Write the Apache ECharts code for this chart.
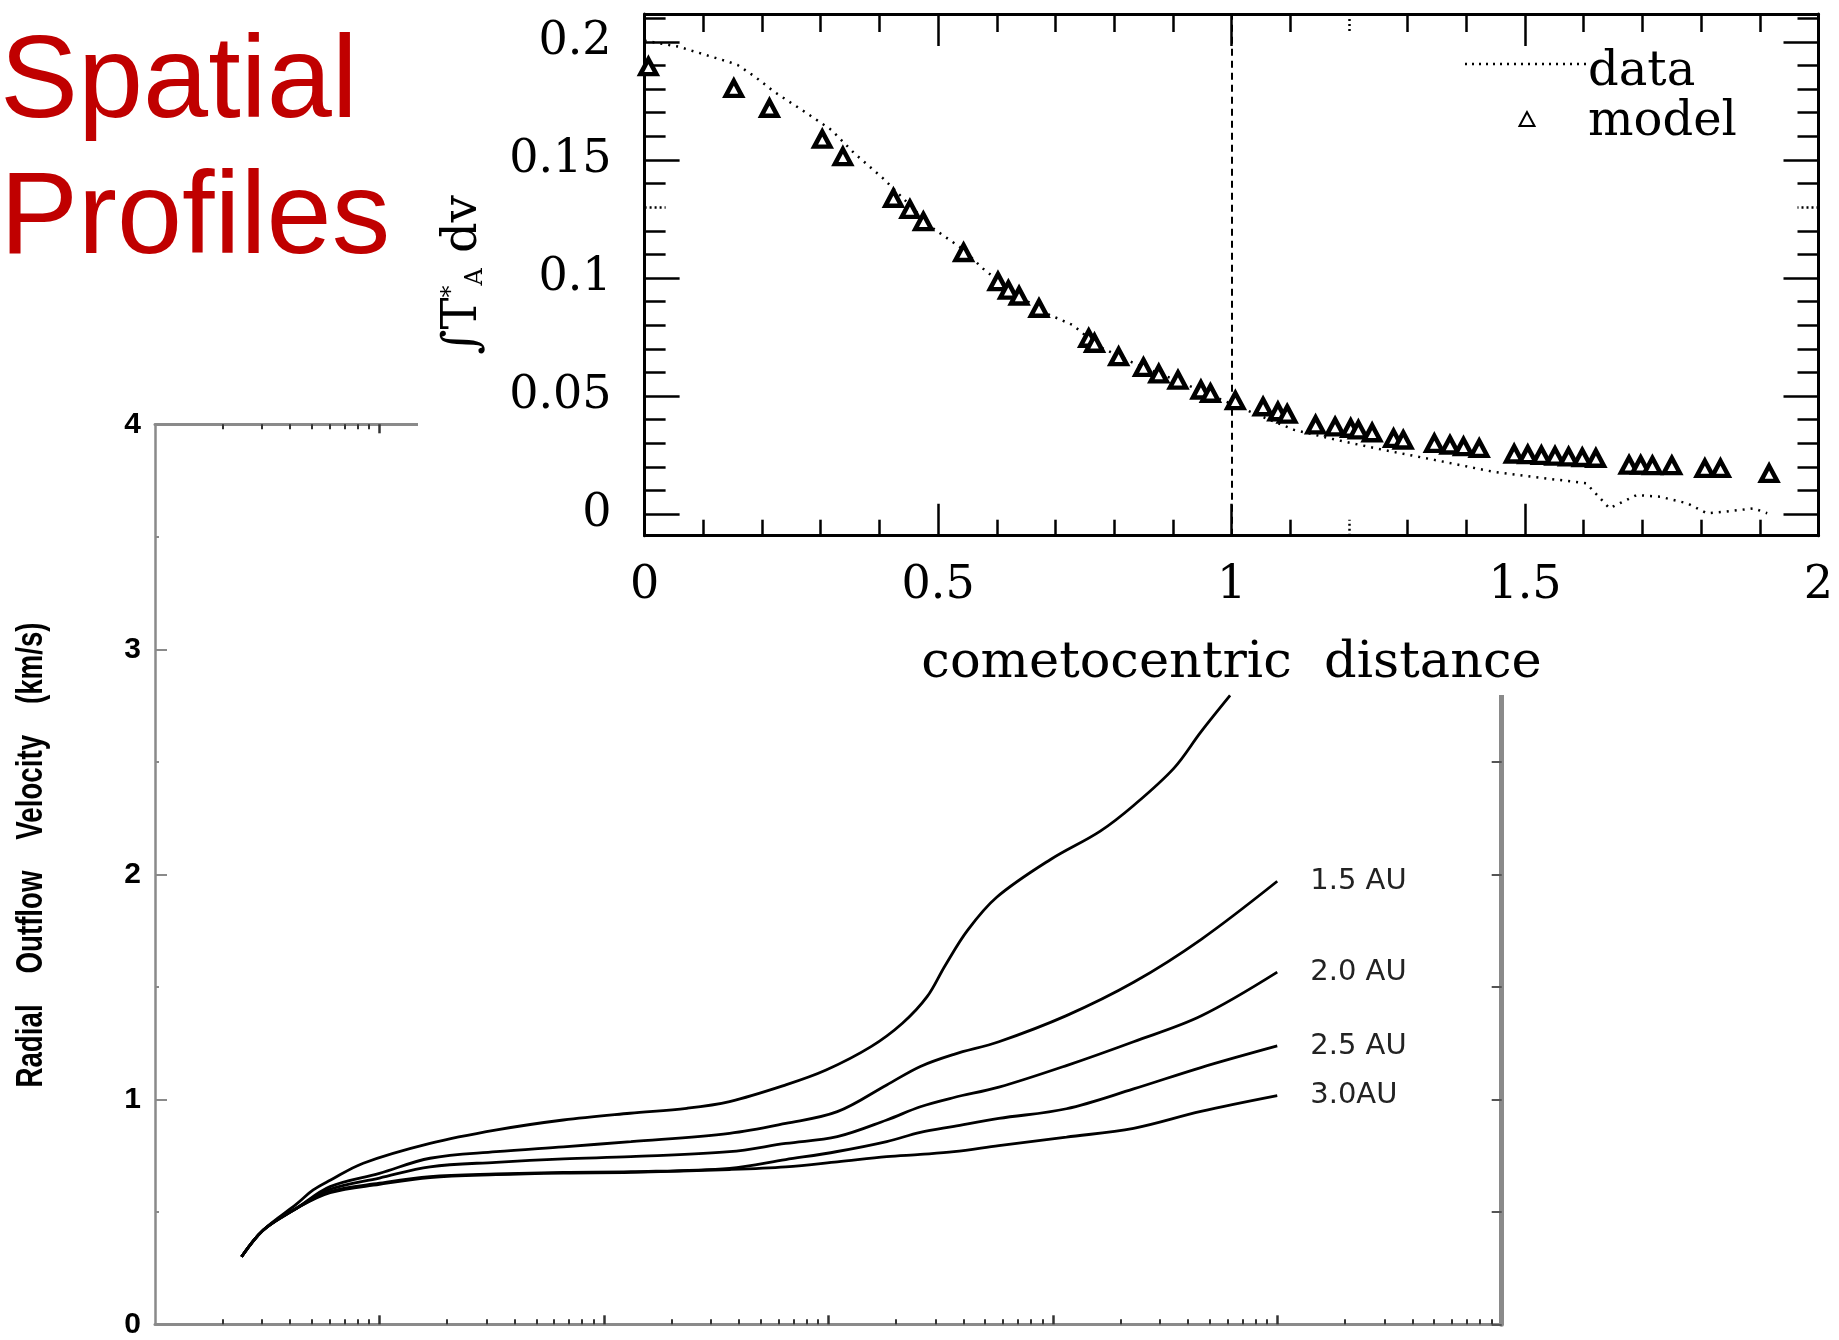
<!DOCTYPE html>
<html><head><meta charset="utf-8">
<script src="https://cdn.jsdelivr.net/npm/echarts@6/dist/echarts.min.js"></script>
<style>html,body{margin:0;padding:0;background:#fff}#c{width:1839px;height:1340px}</style>
</head><body><div id="c"></div>
<script>
// ================= DATA =================
const titleText = 'Spatial\nProfiles';

// ---- upper panel: integrated intensity vs cometocentric distance ----
const profileDist = [0, 0.0574, 0.1422, 0.1585, 0.1878, 0.2205, 0.2727, 0.3183, 0.3574, 0.4063,
  0.4487, 0.4878, 0.5401, 0.5791, 0.6313, 0.6836, 0.7292, 0.7749, 0.8401, 0.9054,
  0.9966, 1.1067, 1.1797, 1.2593, 1.3455, 1.445, 1.5114, 1.6042, 1.6439, 1.6903,
  1.7301, 1.7765, 1.8097, 1.8428, 1.8893, 1.9126];
const profileData = [0.2005, 0.198, 0.1916, 0.1902, 0.1853, 0.1789, 0.1704, 0.1627, 0.1528, 0.1422,
  0.1317, 0.1217, 0.1126, 0.1034, 0.0935, 0.0851, 0.0801, 0.0709, 0.0632, 0.0568,
  0.047, 0.0357, 0.0314, 0.0272, 0.023, 0.018, 0.0159, 0.0131, 0.0025, 0.0081,
  0.0074, 0.0046, 0.0004, 0.0011, 0.0025, 0.0004];
const modelDist = [0.0065, 0.152, 0.2127, 0.3027, 0.3378, 0.4239, 0.452, 0.4749, 0.5434, 0.602,
  0.6197, 0.638, 0.6719, 0.7566, 0.7665, 0.8076, 0.8499, 0.876, 0.9087, 0.9478,
  0.964, 1.0065, 1.0537, 1.079, 1.0948, 1.1432, 1.1764, 1.203, 1.2161, 1.2395,
  1.276, 1.2925, 1.3455, 1.3721, 1.3952, 1.4219, 1.4815, 1.5047, 1.5279, 1.5511,
  1.5742, 1.5975, 1.6207, 1.6772, 1.697, 1.717, 1.7501, 1.8064, 1.833, 1.9158];
const modelValue = [0.1895, 0.1803, 0.1719, 0.1588, 0.1514, 0.1338, 0.1291, 0.1239, 0.1108, 0.0985,
  0.0949, 0.0924, 0.0872, 0.0745, 0.0724, 0.0667, 0.0622, 0.0594, 0.0568, 0.0526,
  0.0512, 0.0481, 0.0455, 0.0434, 0.0424, 0.0378, 0.037, 0.0364, 0.0357, 0.0345,
  0.0321, 0.0314, 0.030, 0.0293, 0.0286, 0.0279, 0.0255, 0.0252, 0.0249, 0.0246,
  0.0243, 0.024, 0.0237, 0.0208, 0.0208, 0.0206, 0.0206, 0.0194, 0.0194, 0.0173];
const boundaryDistance = 1;
const upperXLabels = [0, 0.5, 1, 1.5, 2];
const upperXMajorTicks = [0.5, 1, 1.5];
const upperXMinorTicks = [0.1, 0.2, 0.3, 0.4, 0.6, 0.7, 0.8, 0.9, 1.1, 1.3, 1.4, 1.6, 1.7, 1.8, 1.9];
const upperXDottedTicks = [1.2];
const upperYLabels = [0, 0.05, 0.1, 0.15, 0.2];
const upperYMinorTicks = [0.01, 0.02, 0.03, 0.04, 0.06, 0.07, 0.08, 0.09, 0.11, 0.12, 0.14, 0.16, 0.17, 0.18, 0.19, 0.21];
const upperYDottedTicks = [0.13];
const upperXName = 'cometocentric  distance';
const upperYName = '\u222BT{s|*}{b|A} dv';
const legendNames = ['data', 'model'];

// ---- lower panel: radial outflow velocity vs distance (log) ----
const curveDist = [2.43, 3.04, 4.28, 6.03, 10, 16.8, 33.1, 66.1, 132, 363,
  646, 1096, 1820, 2570, 3630, 5750, 11500, 22900, 45700, 100000];
const vel15 = [0.30, 0.419, 0.516, 0.612, 0.671, 0.738, 0.767, 0.789, 0.812, 0.849,
  0.893, 0.945, 1.064, 1.146, 1.2, 1.256, 1.372, 1.52, 1.71, 1.969];
const vel20 = [0.30, 0.419, 0.516, 0.60, 0.65, 0.70, 0.72, 0.735, 0.745, 0.767,
  0.804, 0.834, 0.908, 0.967, 1.008, 1.054, 1.15, 1.256, 1.37, 1.565];
const vel25 = [0.30, 0.419, 0.516, 0.59, 0.627, 0.656, 0.668, 0.675, 0.678, 0.693,
  0.732, 0.768, 0.812, 0.853, 0.88, 0.915, 0.958, 1.046, 1.141, 1.237];
const vel30 = [0.30, 0.419, 0.516, 0.585, 0.622, 0.652, 0.665, 0.672, 0.675, 0.688,
  0.70, 0.722, 0.745, 0.755, 0.767, 0.794, 0.832, 0.871, 0.946, 1.016];
const topDist = [2.43, 3.04, 4.28, 5.07, 6.03, 8.47, 16.8, 33.3, 65.9, 130.6,
  234, 363, 646, 977, 1549, 2138, 2754, 3311, 4169, 5623,
  9772, 16218, 22909, 34674, 45709, 61660];
const velTop = [0.30, 0.419, 0.535, 0.597, 0.64, 0.716, 0.804, 0.864, 0.908, 0.938,
  0.96, 0.99, 1.064, 1.13, 1.234, 1.338, 1.456, 1.594, 1.751, 1.898,
  2.066, 2.191, 2.306, 2.472, 2.633, 2.795];
const curveNames = ['1.5 AU', '2.0 AU', '2.5 AU', '3.0AU'];
const lowerYName = 'Radial    Outflow    Velocity    (km/s)';
const lowerDecadeTicks = [10, 100, 1000, 10000, 100000];
const lowerMantissas = [2, 3, 4, 5, 6, 7, 8, 9];
const lowerDecades = [1, 10, 100, 1000, 10000, 100000];

// ================= LAYOUT =================
const LOW = {left: 155, top: 424.3, right: 1501.7, bottom: 1324.3};
const UP = {left: 644.6, top: 14, right: 1818.5, bottom: 535.7};
const serif = 'DejaVu Serif';

const lowerMinorTicks = [];
lowerDecades.forEach(d => lowerMantissas.forEach(m => lowerMinorTicks.push(m * d)));

function tickAxis(common, values, len, opts) {
  opts = opts || {};
  return Object.assign({
    type: 'value',
    axisLine: {show: false, onZero: false},
    axisTick: {show: true, inside: true, customValues: values, length: len,
      lineStyle: {color: opts.color || '#000', width: opts.width || 2.5, type: opts.dotted ? [2, 3] : 'solid'}},
    axisLabel: {show: false}, splitLine: {show: false},
    minorTick: {show: false}, minorSplitLine: {show: false}
  }, common);
}

const upX = {gridIndex: 1, min: 0, max: 2, z: 10};
const upY = {gridIndex: 1, min: -0.0091, max: 0.2118, z: 10};
const lowHelperBottom = {gridIndex: 0, min: 0, max: 6, position: 'bottom'};
const lowHelperTop = {gridIndex: 0, min: 0, max: 6, position: 'top'};
const lg = v => Math.log10(v);

const option = {
  backgroundColor: '#fff',
  animation: false,
  title: {
    text: titleText, left: 0, top: 17, padding: 0,
    textStyle: {fontFamily: 'Liberation Sans', fontSize: 117, fontWeight: 'normal', color: '#C00000', lineHeight: 136}
  },
  grid: [
    {left: LOW.left, top: LOW.top, width: LOW.right - LOW.left, height: LOW.bottom - LOW.top, outerBoundsMode: 'none', containLabel: false},
    {left: UP.left, top: UP.top, width: UP.right - UP.left, height: UP.bottom - UP.top, outerBoundsMode: 'none', containLabel: false}
  ],
  xAxis: [
    {gridIndex: 0, type: 'log', logBase: 10, min: 1, max: 1e6, position: 'bottom',
      axisLine: {onZero: false, lineStyle: {color: '#8a8a8a', width: 3}},
      axisTick: {show: false}, axisLabel: {show: false}, splitLine: {show: false}, minorTick: {show: false}},
    {gridIndex: 0, type: 'log', logBase: 10, min: 1, max: 1e6, position: 'top',
      axisLine: {onZero: false, lineStyle: {color: '#8a8a8a', width: 3}},
      axisTick: {show: false}, axisLabel: {show: false}, splitLine: {show: false}, minorTick: {show: false}},
    tickAxis(lowHelperBottom, lowerMinorTicks.map(lg), 5, {color: '#333', width: 2}),
    tickAxis(lowHelperBottom, lowerDecadeTicks.map(lg), 9, {color: '#333', width: 2.5}),
    tickAxis(lowHelperTop, lowerMinorTicks.map(lg), 5, {color: '#333', width: 2}),
    tickAxis(lowHelperTop, lowerDecadeTicks.map(lg), 9, {color: '#333', width: 2.5}),
    Object.assign({}, upX, {
      type: 'value', position: 'bottom',
      axisLine: {onZero: false, lineStyle: {color: '#000', width: 3}},
      axisTick: {show: true, inside: true, customValues: upperXMajorTicks, length: 32, lineStyle: {color: '#000', width: 2.5}},
      axisLabel: {customValues: upperXLabels, fontFamily: serif, fontSize: 46, color: '#000', margin: 27},
      splitLine: {show: false}, minorTick: {show: false},
      name: upperXName, nameLocation: 'middle', nameGap: 103, nameMoveOverlap: false,
      nameTextStyle: {fontFamily: serif, fontSize: 51, color: '#000'}
    }),
    tickAxis(Object.assign({position: 'bottom'}, upX), upperXMinorTicks, 16),
    tickAxis(Object.assign({position: 'bottom'}, upX), upperXDottedTicks, 16, {dotted: true}),
    Object.assign({}, upX, {
      type: 'value', position: 'top',
      axisLine: {onZero: false, lineStyle: {color: '#000', width: 3}},
      axisTick: {show: true, inside: true, customValues: upperXMajorTicks, length: 32, lineStyle: {color: '#000', width: 2.5}},
      axisLabel: {show: false}, splitLine: {show: false}, minorTick: {show: false}
    }),
    tickAxis(Object.assign({position: 'top'}, upX), upperXMinorTicks, 18),
    tickAxis(Object.assign({position: 'top'}, upX), upperXDottedTicks, 18, {dotted: true})
  ],
  yAxis: [
    {gridIndex: 0, type: 'value', min: 0, max: 4, interval: 1, position: 'left',
      axisLine: {onZero: false, lineStyle: {color: '#8a8a8a', width: 2.5}},
      axisTick: {show: true, inside: true, length: 12, lineStyle: {color: '#8a8a8a', width: 2}},
      minorTick: {show: true, splitNumber: 2, length: 4, lineStyle: {color: '#8a8a8a', width: 2}},
      axisLabel: {fontFamily: 'Liberation Sans', fontWeight: 'bold', fontSize: 30, color: '#000', margin: 14},
      splitLine: {show: false}},
    {gridIndex: 0, type: 'value', min: 0, max: 4, interval: 0.5, position: 'right',
      axisLine: {onZero: false, lineStyle: {color: '#8a8a8a', width: 5}},
      axisTick: {show: true, inside: true, length: 10, lineStyle: {color: '#555', width: 2}},
      axisLabel: {show: false}, splitLine: {show: false}},
    Object.assign({}, upY, {
      type: 'value', position: 'left',
      axisLine: {onZero: false, lineStyle: {color: '#000', width: 3}},
      axisTick: {show: true, inside: true, customValues: upperYLabels, length: 35, lineStyle: {color: '#000', width: 2.5}},
      axisLabel: {customValues: upperYLabels, fontFamily: serif, fontSize: 46, color: '#000', margin: 33},
      splitLine: {show: false}, minorTick: {show: false},
      name: upperYName, nameLocation: 'middle', nameRotate: 90, nameGap: 157, nameMoveOverlap: false,
      nameTextStyle: {fontFamily: serif, fontSize: 48, color: '#000',
        rich: {s: {fontFamily: serif, fontSize: 24, color: '#000', verticalAlign: 'top'},
               b: {fontFamily: serif, fontSize: 24, color: '#000', verticalAlign: 'bottom'}}}
    }),
    tickAxis(Object.assign({position: 'left'}, upY), upperYMinorTicks, 21),
    tickAxis(Object.assign({position: 'left'}, upY), upperYDottedTicks, 21, {dotted: true}),
    Object.assign({}, upY, {
      type: 'value', position: 'right',
      axisLine: {onZero: false, lineStyle: {color: '#000', width: 3}},
      axisTick: {show: true, inside: true, customValues: upperYLabels, length: 35, lineStyle: {color: '#000', width: 2.5}},
      axisLabel: {show: false}, splitLine: {show: false}, minorTick: {show: false}
    }),
    tickAxis(Object.assign({position: 'right'}, upY), upperYMinorTicks, 21),
    tickAxis(Object.assign({position: 'right'}, upY), upperYDottedTicks, 21, {dotted: true})
  ],
  series: [
    {type: 'line', name: legendNames[0], xAxisIndex: 6, yAxisIndex: 2, z: 10,
      data: profileDist.map((d, i) => [d, profileData[i]]),
      symbol: 'none', lineStyle: {color: '#000', width: 2.5, type: [2, 6]},
      markLine: {silent: true, z: 10, symbol: ['none', 'none'], label: {show: false},
        lineStyle: {color: '#000', width: 2, type: [7, 5]}, data: [{xAxis: boundaryDistance}]}},
    {type: 'scatter', name: legendNames[1], xAxisIndex: 6, yAxisIndex: 2, z: 11,
      data: modelDist.map((d, i) => [d, modelValue[i]]),
      symbol: 'triangle', symbolSize: [16, 15],
      itemStyle: {color: '#fff', borderColor: '#000', borderWidth: 4.5, opacity: 1}},
    {type: 'line', name: '1.0 AU', xAxisIndex: 0, yAxisIndex: 0,
      data: topDist.map((d, i) => [d, velTop[i]]),
      symbol: 'none', smooth: 0.35, lineStyle: {color: '#000', width: 2.8}}
  ].concat([vel15, vel20, vel25, vel30].map((vals, k) => ({
    type: 'line', name: curveNames[k], xAxisIndex: 0, yAxisIndex: 0,
    data: curveDist.map((d, i) => [d, vals[i]]),
    symbol: 'none', smooth: 0.35, lineStyle: {color: '#000', width: 2.8},
    endLabel: {show: true, formatter: curveNames[k], distance: 33,
      fontFamily: 'DejaVu Sans', fontSize: 29, color: '#222'}
  }))),
  graphic: {elements: [
    {type: 'rect', silent: true, z: 3, shape: {x: 418, y: 0, width: 1421, height: 695}, style: {fill: '#fff'}},
    {type: 'line', z: 10, shape: {x1: 1465, y1: 64, x2: 1586, y2: 64}, style: {stroke: '#000', lineWidth: 2.5, lineDash: [2, 5]}},
    {type: 'polygon', z: 10, shape: {points: [[1527, 112], [1519.5, 126], [1534.5, 126]]}, style: {fill: '#fff', stroke: '#000', lineWidth: 2}},
    {type: 'text', z: 10, x: 1588, y: 72.5, style: {text: legendNames[0], font: '48px "DejaVu Serif"', fill: '#000', textVerticalAlign: 'middle'}},
    {type: 'text', z: 10, x: 1588, y: 122.5, style: {text: legendNames[1], font: '48px "DejaVu Serif"', fill: '#000', textVerticalAlign: 'middle'}},
    {type: 'text', z: 10, x: 32, y: 855, rotation: Math.PI / 2, scaleX: 0.77,
      style: {text: lowerYName, font: 'bold 36px "Liberation Sans"', fill: '#000', textAlign: 'center', textVerticalAlign: 'middle'}}
  ]}
};

const chart = echarts.init(document.getElementById('c'), null, {renderer: 'canvas'});
chart.setOption(option);
</script>
</body></html>
